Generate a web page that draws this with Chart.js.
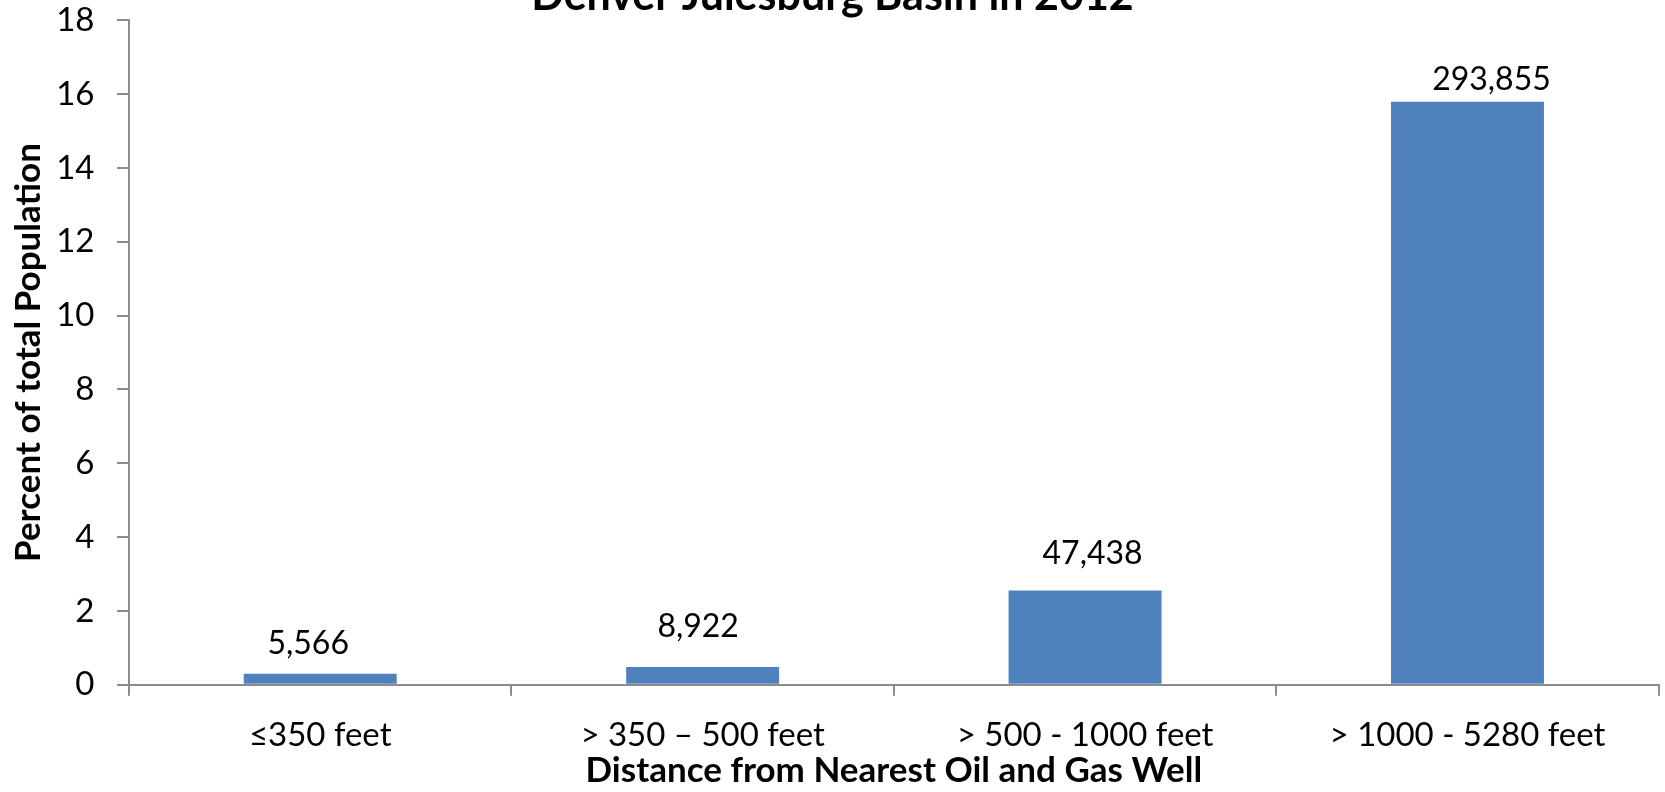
<!DOCTYPE html>
<html>
<head>
<meta charset="utf-8">
<script src="https://cdn.jsdelivr.net/npm/chart.js@4.4.1/dist/chart.umd.min.js"></script>
<style>
  html, body { margin: 0; padding: 0; background: #ffffff; overflow: hidden; }
  #wrap { position: relative; width: 1665px; height: 792px; }
</style>
</head>
<body>
<div id="wrap"><canvas id="c" width="1665" height="792"></canvas></div>
<script>
// Population living near oil and gas wells, grouped by distance band
const chartTitle = 'Denver Julesburg Basin in 2012';
const categories = ['≤350 feet', '> 350 – 500 feet', '> 500 - 1000 feet', '> 1000 - 5280 feet'];
const populationCounts = [5566, 8922, 47438, 293855];
const percentOfPopulation = [0.30, 0.48, 2.55, 15.79];
const yTickValues = [0, 2, 4, 6, 8, 10, 12, 14, 16, 18];
const xAxisTitle = 'Distance from Nearest Oil and Gas Well';
const yAxisTitle = 'Percent of total Population';

const FONT = 'Lato, "Open Sans", sans-serif';
const AXIS_GREY = '#8c8c8c';

// Title sits at the very top edge of the canvas
const topTitle = {
  id: 'topTitle',
  afterDraw(chart, args, opts) {
    const ctx = chart.ctx;
    ctx.save();
    ctx.font = opts.font;
    ctx.fillStyle = opts.color;
    ctx.textAlign = 'center';
    ctx.textBaseline = 'alphabetic';
    ctx.fillText(opts.text, chart.width / 2, opts.baseline);
    ctx.restore();
  }
};

// Head-count labels above each bar
const countLabels = {
  id: 'countLabels',
  afterDatasetsDraw(chart, args, opts) {
    const meta = chart.getDatasetMeta(0);
    const ctx = chart.ctx;
    ctx.save();
    ctx.font = opts.font;
    ctx.fillStyle = opts.color;
    ctx.textAlign = 'center';
    ctx.textBaseline = 'middle';
    meta.data.forEach((bar, i) => {
      const text = populationCounts[i].toLocaleString('en-US');
      ctx.fillText(text, bar.x + opts.nudgeX[i], bar.y - opts.lift[i]);
    });
    ctx.restore();
  }
};

new Chart(document.getElementById('c'), {
  type: 'bar',
  data: {
    labels: categories,
    datasets: [{
      data: percentOfPopulation,
      backgroundColor: '#4f81bd',
      borderWidth: 0,
      categoryPercentage: 1.0,
      barPercentage: 0.4
    }]
  },
  options: {
    responsive: false,
    animation: false,
    events: [],
    layout: { padding: { top: 0, right: 6.3, bottom: 0, left: 0 } },
    plugins: {
      legend: { display: false },
      title: { display: false },
      tooltip: { enabled: false },
      topTitle: { text: chartTitle, font: 'bold 43px ' + FONT, color: '#000', baseline: 10 },
      countLabels: {
        font: '32px ' + FONT,
        color: '#000',
        nudgeX: [-12, -4.5, 7.5, 24],
        lift: [30, 40, 37, 22]
      }
    },
    scales: {
      x: {
        type: 'category',
        offset: true,
        grid: {
          offset: true,
          drawOnChartArea: false,
          drawTicks: true,
          tickLength: 11,
          color: AXIS_GREY,
          lineWidth: 2
        },
        border: { display: true, color: AXIS_GREY, width: 2 },
        ticks: {
          color: '#000',
          font: { family: FONT, size: 33 },
          padding: 20,
          maxRotation: 0,
          autoSkip: false
        },
        title: {
          display: true,
          text: xAxisTitle,
          color: '#000',
          font: { family: FONT, size: 35, weight: 'bold' },
          padding: { top: 0, bottom: 0 }
        },
        afterFit(scale) { scale.height = 107.3; }
      },
      y: {
        type: 'linear',
        min: 0,
        max: 18,
        afterBuildTicks(scale) { scale.ticks = yTickValues.map(v => ({ value: v })); },
        grid: {
          drawOnChartArea: false,
          drawTicks: true,
          tickLength: 12,
          color: AXIS_GREY,
          lineWidth: 2
        },
        border: { display: true, color: AXIS_GREY, width: 2 },
        ticks: {
          color: '#000',
          font: { family: FONT, size: 33 },
          padding: 22.5
        },
        title: {
          display: true,
          text: yAxisTitle,
          color: '#000',
          font: { family: FONT, size: 35, weight: 'bold' },
          padding: { top: 8, bottom: 0 }
        },
        afterFit(scale) {
          scale.width = 129;
          scale.paddingTop = 20.3;
          scale.paddingBottom = 0;
        }
      }
    }
  },
  plugins: [topTitle, countLabels]
});
</script>
</body>
</html>
